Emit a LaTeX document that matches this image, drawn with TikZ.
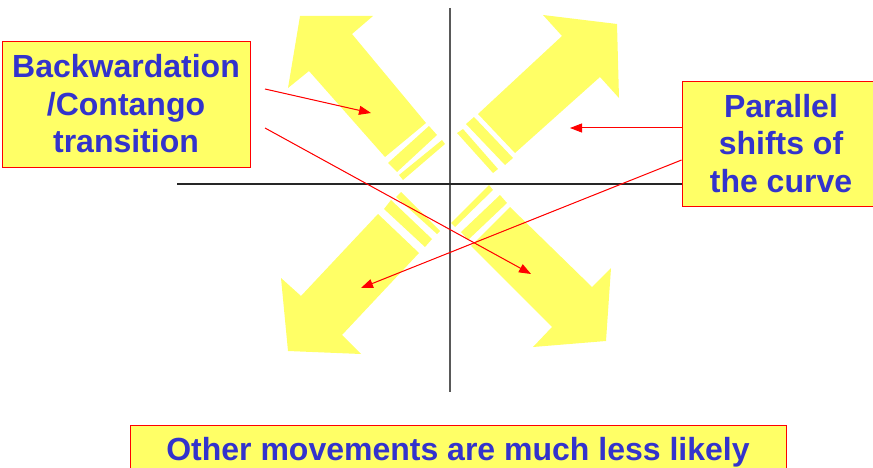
\documentclass[tikz,border=0pt]{standalone}
\usepackage{fontspec}
\setmainfont{Liberation Sans}
\usetikzlibrary{arrows.meta}
\definecolor{ayellow}{HTML}{FFFF66}
\definecolor{tblue}{HTML}{3333CC}
\definecolor{bred}{HTML}{FF0000}
\tikzset{
  bigarrow/.style={fill=ayellow, draw=none},
  labelbox/.style={draw=bred, line width=0.9pt, fill=ayellow, text=tblue,
    font=\fontsize{32}{37.5}\selectfont\bfseries, align=center, inner sep=0pt},
  pointer/.style={draw=bred, line width=1pt, -{Triangle[length=12pt,width=9pt]}, fill=bred},
  axisv/.style={draw=black!65, line width=1.4pt},
  axish/.style={draw=black!85, line width=1.2pt}
}
\begin{document}
\begin{tikzpicture}[x=1pt,y=-1pt]
\useasboundingbox (0,0) rectangle (873,468);
% yellow arrows
% upper left
\fill[bigarrow] (300,16) -- (373,16) -- (352,34) -- (426,123) -- (385,157) -- (309,71) -- (288,88) -- cycle;
\fill[bigarrow] (429,126) -- (437,135) -- (397,172) -- (388,163) -- cycle;
\fill[bigarrow] (442,140) -- (445,144) -- (403,180) -- (399,175) -- cycle;
% upper right
\fill[bigarrow] (543,15) -- (617,24) -- (619,98) -- (600,77) -- (515,153) -- (478,114) -- (562,36) -- cycle;
\fill[bigarrow] (474,117) -- (466,124) -- (505,165) -- (513,158) -- cycle;
\fill[bigarrow] (463,129) -- (457,133) -- (493,173) -- (498,169) -- cycle;
% lower left
\fill[bigarrow] (378,214) -- (419,253) -- (342,335) -- (361,354) -- (288,351) -- (281,278) -- (301,296) -- cycle;
\fill[bigarrow] (391,200) -- (384,209) -- (425,247) -- (432,239) -- cycle;
\fill[bigarrow] (401,192) -- (396,197) -- (437,234) -- (440,231) -- cycle;
% lower right
\fill[bigarrow] (510,207) -- (592,287) -- (611,268) -- (606,341) -- (533,347) -- (552,327) -- (471,246) -- cycle;
\fill[bigarrow] (500,195) -- (507,203) -- (468,240) -- (461,232) -- cycle;
\fill[bigarrow] (489,185) -- (493,190) -- (455,227) -- (451,223) -- cycle;
% axes
\coordinate (vtop) at (450,8);
\coordinate (vbot) at (450,392);
\coordinate (hleft) at (177,184);
\coordinate (hright) at (683,184);
\draw[axisv] (vtop) -- (vbot);
\draw[axish] (hleft) -- (hright);
% boxes
\node[labelbox, minimum width=248pt, minimum height=126pt] (lbox) at (126,104)
  {Backwardation\\/Contango\\transition};
\node[labelbox, minimum width=198pt, minimum height=125pt] (rbox) at (781,143.5)
  {Parallel\\shifts of\\the curve};
\node[labelbox, minimum width=656pt, minimum height=54pt, font=\fontsize{32}{38}\selectfont\bfseries] (bbox) at (458,452)
  {Other movements are much less likely};
% pointer coordinates
\coordinate (s1) at (265,89);
\coordinate (e1) at (371,113);
\coordinate (s2) at (265,128);
\coordinate (e2) at (531,274);
\coordinate (s3) at (rbox.west |- 0,128);
\coordinate (e3) at (570,128);
\coordinate (s4) at (rbox.west |- 0,160);
\coordinate (e4) at (361,288);
\draw[pointer] (s1) -- (e1);
\draw[pointer] (s2) -- (e2);
\draw[pointer] (s3) -- (e3);
\draw[pointer] (s4) -- (e4);
\end{tikzpicture}
\end{document}
